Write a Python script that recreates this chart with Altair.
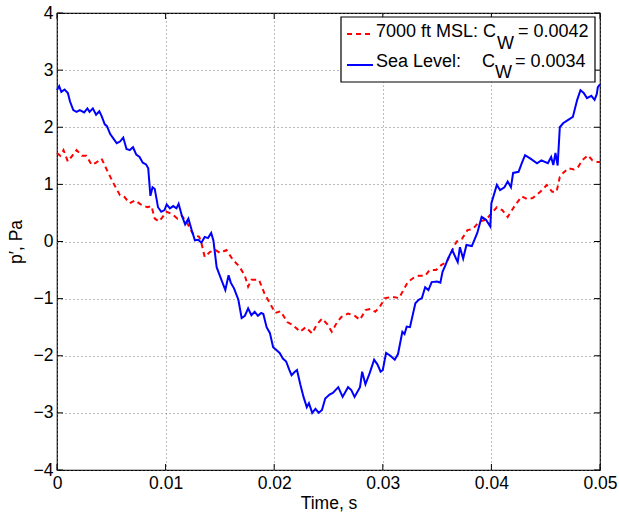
import altair as alt
import pandas as pd

# ---- data (time in ms, pressure in Pa) ----
blue_t_ms = [0, 0.2, 0.4, 0.7, 1.0, 1.2, 1.5, 1.8, 2.1, 2.5, 2.8, 3.0, 3.3, 3.6, 3.9, 4.1, 4.4, 4.6, 4.9,
             5.2, 5.5, 5.8, 6.1, 6.4, 6.7, 7.0, 7.3, 7.6, 7.9, 8.2, 8.4, 8.6, 8.8, 9.0, 9.3, 9.6, 9.9,
             10.1, 10.4, 10.7, 11.0, 11.2, 11.5, 11.8, 12.1, 12.4, 12.7, 13.0, 13.3, 13.6, 13.9, 14.2,
             14.4, 14.7, 15.0, 15.3, 15.5, 15.8, 16.0, 16.3, 16.7, 17.0, 17.3, 17.6, 17.9, 18.2, 18.5,
             18.8, 19.0, 19.3, 19.6, 19.9, 20.2, 20.5, 20.8, 21.1, 21.4, 21.6, 21.9, 22.1, 22.4, 22.7,
             23.0, 23.2, 23.5, 23.8, 24.1, 24.4, 24.7, 25.1, 25.4, 25.9, 26.3, 26.8, 27.1, 27.4, 27.9,
             28.1, 28.4, 28.8, 29.2, 29.5, 29.8, 30.0, 30.3, 30.7, 31.1, 31.4, 31.8, 32.0, 32.2, 32.5,
             33.0, 33.3, 33.6, 33.9, 34.2, 34.5, 35.0, 35.3, 35.5, 35.8, 36.0, 36.4, 36.7, 36.9, 37.1,
             37.4, 37.7, 38.2, 38.7, 39.1, 39.5, 39.9, 40.0, 40.5, 40.8, 41.2, 41.5, 41.8, 42.0, 42.5,
             42.8, 43.1, 43.6, 44.2, 44.6, 45.2, 45.5, 45.7, 45.9, 46.1, 46.3, 46.6, 47.0, 47.5, 47.9,
             48.2, 48.5, 48.8, 49.2, 49.5, 49.7, 49.8, 50.0]
blue_p = [2.65, 2.72, 2.62, 2.66, 2.6, 2.45, 2.3, 2.27, 2.3, 2.26, 2.33, 2.27, 2.33, 2.22, 2.28, 2.2, 2.05,
          2.02, 1.88, 1.8, 1.72, 1.75, 1.82, 1.62, 1.6, 1.65, 1.52, 1.48, 1.38, 1.35, 1.28, 0.8, 0.95,
          0.92, 0.6, 0.52, 0.55, 0.65, 0.58, 0.62, 0.58, 0.66, 0.45, 0.3, 0.4, 0.2, 0.02, 0.03, -0.02,
          0.08, 0.06, 0.15, 0.02, -0.45, -0.6, -0.75, -0.85, -0.59, -0.72, -0.82, -1.02, -1.34, -1.3,
          -1.17, -1.29, -1.23, -1.3, -1.25, -1.27, -1.5, -1.6, -1.85, -1.9, -1.95, -2.05, -2.1, -2.25,
          -2.34, -2.28, -2.25, -2.5, -2.72, -2.9, -2.83, -3.0, -2.93, -3.0, -2.95, -2.75, -2.68, -2.65,
          -2.55, -2.72, -2.55, -2.6, -2.72, -2.55, -2.28, -2.5, -2.3, -2.07, -2.15, -2.28, -2.25, -1.95,
          -2.0, -2.07, -1.97, -1.58, -1.62, -1.49, -1.5, -1.08, -1.02, -0.99, -0.8, -0.85, -0.71, -0.7,
          -0.72, -0.53, -0.4, -0.3, -0.15, -0.28, -0.36, -0.1, -0.3, -0.06, -0.08, 0.15, 0.43, 0.38,
          0.26, 0.67, 0.99, 0.9, 0.95, 1.05, 0.95, 1.2, 1.22, 1.37, 1.51, 1.45, 1.37, 1.42, 1.37, 1.48,
          1.34, 1.55, 1.33, 2.0, 2.07, 2.12, 2.18, 2.48, 2.65, 2.6, 2.51, 2.55, 2.48, 2.58, 2.7, 2.75]

red_t_ms = [0, 0.3, 0.6, 1.0, 1.4, 1.8, 2.3, 2.7, 3.2, 3.6, 4.1, 4.6, 5.2, 5.8, 6.2, 6.7, 7.2, 7.7, 8.3,
            8.7, 9.0, 9.4, 10.1, 10.6, 11.1, 11.5, 12.0, 12.5, 13.1, 13.3, 13.6, 14.1, 14.6, 15.0, 15.6,
            16.2, 16.8, 17.3, 17.6, 17.9, 18.6, 19.1, 19.6, 20.1, 20.6, 21.2, 21.7, 22.4, 22.9, 23.5,
            23.9, 24.4, 24.9, 25.3, 25.8, 26.2, 26.8, 27.4, 27.9, 28.4, 28.9, 29.3, 29.7, 30.2, 30.9,
            31.5, 31.9, 32.3, 32.8, 33.3, 33.9, 34.3, 34.9, 35.4, 35.9, 36.4, 36.8, 37.3, 37.8, 38.3,
            38.9, 39.5, 40.0, 40.5, 41.0, 41.5, 42.2, 42.8, 43.3, 43.8, 44.5, 45.1, 45.6, 46.0, 46.3,
            46.6, 47.1, 47.6, 48.0, 48.4, 48.9, 49.3, 49.8, 50.0]
red_p = [1.55, 1.5, 1.6, 1.4, 1.5, 1.6, 1.5, 1.5, 1.34, 1.38, 1.45, 1.25, 1.02, 0.81, 0.78, 0.67, 0.72,
         0.65, 0.6, 0.62, 0.4, 0.35, 0.52, 0.48, 0.4, 0.45, 0.32, 0.14, 0.08, -0.03, -0.27, -0.18, -0.15,
         -0.2, -0.15, -0.32, -0.44, -0.6, -0.79, -0.67, -0.67, -0.91, -1.08, -1.25, -1.22, -1.41, -1.46,
         -1.58, -1.5, -1.61, -1.46, -1.35, -1.45, -1.58, -1.41, -1.32, -1.26, -1.3, -1.37, -1.2, -1.18,
         -1.23, -1.15, -0.99, -0.97, -0.99, -0.85, -0.71, -0.64, -0.6, -0.6, -0.5, -0.5, -0.41, -0.36,
         -0.15, 0.0, 0.05, 0.2, 0.22, 0.35, 0.38, 0.49, 0.6, 0.55, 0.43, 0.64, 0.79, 0.74, 0.76, 0.87,
         0.99, 0.87, 0.87, 1.13, 1.2, 1.28, 1.26, 1.31, 1.43, 1.51, 1.42, 1.39, 1.39]

x_ticks = [0, 0.01, 0.02, 0.03, 0.04, 0.05]
y_ticks = [-4, -3, -2, -1, 0, 1, 2, 3, 4]

FONT = "Liberation Sans"
W, H = 543, 457

blue_df = pd.DataFrame({"t": [v / 1000 for v in blue_t_ms], "p": blue_p})
red_df = pd.DataFrame({"t": [v / 1000 for v in red_t_ms], "p": red_p})
xt_df = pd.DataFrame({"t": x_ticks})
yt_df = pd.DataFrame({"p": y_ticks})

xs = alt.Scale(domain=[0, 0.05], nice=False, zero=False)
ys = alt.Scale(domain=[-4, 4], nice=False, zero=False)

x_axis = alt.Axis(values=x_ticks, format="~g", title="Time, s", grid=True, gridDash=[1, 3],
                  gridColor="#777777", ticks=False, domain=False, labelPadding=4,
                  titlePadding=3, labelFlush=False)
y_axis = alt.Axis(values=y_ticks, format="d", title="p′, Pa", grid=True, gridDash=[1, 3],
                  gridColor="#777777", ticks=False, domain=False, labelPadding=4,
                  titlePadding=8)

base_x = alt.X("t:Q", scale=xs, axis=x_axis)
base_y = alt.Y("p:Q", scale=ys, axis=y_axis)

red_line = alt.Chart(red_df).mark_line(color="#ff0000", strokeWidth=2, strokeDash=[5, 4]).encode(
    x=base_x, y=base_y)
blue_line = alt.Chart(blue_df).mark_line(color="#0000ff", strokeWidth=2).encode(
    x=alt.X("t:Q", scale=xs), y=alt.Y("p:Q", scale=ys))

# inward ticks (MATLAB style) on all four sides
tb = alt.Chart(xt_df).mark_rule(color="black", strokeWidth=1).encode(
    x=alt.X("t:Q", scale=xs), y=alt.value(H), y2=alt.value(H - 6))
tt = alt.Chart(xt_df).mark_rule(color="black", strokeWidth=1).encode(
    x=alt.X("t:Q", scale=xs), y=alt.value(0), y2=alt.value(6))
tl = alt.Chart(yt_df).mark_rule(color="black", strokeWidth=1).encode(
    y=alt.Y("p:Q", scale=ys), x=alt.value(0), x2=alt.value(6))
tr = alt.Chart(yt_df).mark_rule(color="black", strokeWidth=1).encode(
    y=alt.Y("p:Q", scale=ys), x=alt.value(W), x2=alt.value(W - 6))

one = alt.Data(values=[{}])

legend_box = alt.Chart(one).mark_rect(fill="white", stroke="black", strokeWidth=1.2).encode(
    x=alt.value(284), x2=alt.value(538), y=alt.value(4), y2=alt.value(69))
leg_red = alt.Chart(one).mark_rule(color="#ff0000", strokeWidth=2, strokeDash=[5, 4]).encode(
    x=alt.value(290), x2=alt.value(316), y=alt.value(21))
leg_blue = alt.Chart(one).mark_rule(color="#0000ff", strokeWidth=2).encode(
    x=alt.value(290), x2=alt.value(316), y=alt.value(52))


def txt(s, x, y):
    return alt.Chart(one).mark_text(font=FONT, fontSize=18, align="left", baseline="alphabetic",
                                    color="black").encode(
        x=alt.value(x), y=alt.value(y), text=alt.value(s))


legend_texts = [
    txt("7000 ft MSL:", 319, 24), txt("C", 426, 24), txt("W", 440, 36), txt("= 0.0042", 461, 24),
    txt("Sea Level:", 319, 54), txt("C", 425, 54), txt("W", 438, 65), txt("= 0.0034", 458, 54),
]

chart = alt.layer(red_line, blue_line, tb, tt, tl, tr, legend_box, leg_red, leg_blue, *legend_texts).properties(
    width=W, height=H,
    padding={"left": 57, "top": 13, "right": 19, "bottom": 43},
    autosize=alt.AutoSizeParams(type="none"),
    background="white",
).configure_view(stroke="black", strokeWidth=1.2).configure_axis(
    labelFont=FONT, titleFont=FONT, labelFontSize=17.5, titleFontSize=17.5,
    labelColor="black", titleColor="black", titleFontWeight="normal",
)

chart.save("out.html", embed_options={"renderer": "svg", "actions": False})
